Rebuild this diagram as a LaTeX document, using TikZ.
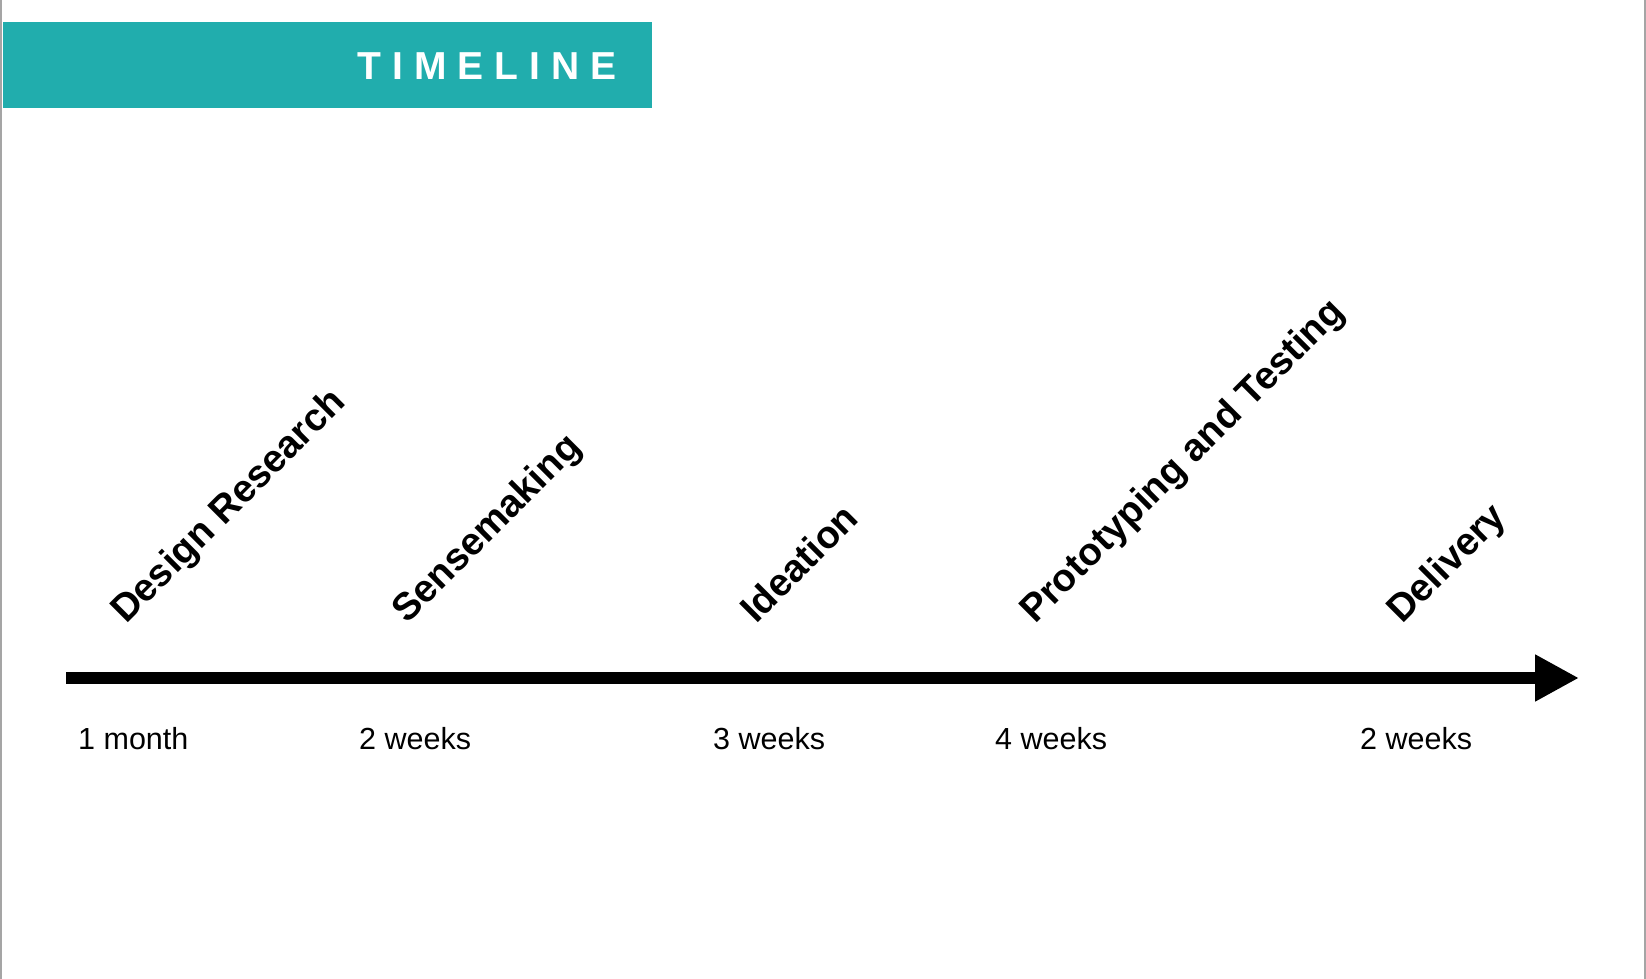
\documentclass[tikz,border=0pt]{standalone}
\usepackage{fontspec}
\setmainfont{Liberation Sans}
\usetikzlibrary{arrows.meta, positioning}
\usepackage{xcolor}
\definecolor{bannerteal}{RGB}{33,173,173}
\definecolor{edgegray}{RGB}{165,165,165}

\begin{document}
\begin{tikzpicture}[
        x=1pt, y=1pt,
        phase/.style={rotate=45, anchor=base west, inner sep=0pt, font=\fontsize{38.5}{42}\selectfont\bfseries},
        span/.style={anchor=base west, inner sep=0pt, font=\fontsize{30.5}{34}\selectfont},
        >={Triangle[length=44pt, width=44pt]}
      ]
        \useasboundingbox (0,0) rectangle (1646,979);

        % page edges and title bar
        \draw[edgegray, line width=2pt] (1,0) -- (1,979);
        \draw[edgegray, line width=2pt] (1645,0) -- (1645,979);
        \fill[bannerteal] (3,871) rectangle (652,957);
        \node[anchor=base east, inner sep=0pt, text=white, font=\fontsize{39}{44}\selectfont\bfseries] (title) at (617,899)
          {T\kern11pt I\kern11pt M\kern11pt E\kern11pt L\kern11pt I\kern11pt N\kern11pt E};

        % axis
        \coordinate (axisstart) at (66,301);
        \coordinate (axisend) at (1579,301);
        \draw[->, line width=11.6pt] (axisstart) -- (axisend);

        % phases
        \node[phase] (research) at (126,354) {Design Research};
        \node[phase] (sense) at (407,354) {Sensemaking};
        \node[phase] (idea) at (756,354) {Ideation};
        \node[phase] (proto) at (1035,354) {Prototyping and Testing};
        \node[phase] (deliv) at (1402,354) {Delivery};

        % durations
        \node[span] (durresearch) at (78,229) {1 month};
        \node[span] (dursense) at (359,229) {2 weeks};
        \node[span] (duridea) at (713,229) {3 weeks};
        \node[span] (durproto) at (995,229) {4 weeks};
        \node[span] (durdeliv) at (1360,229) {2 weeks};
    \end{tikzpicture}
\end{document}
